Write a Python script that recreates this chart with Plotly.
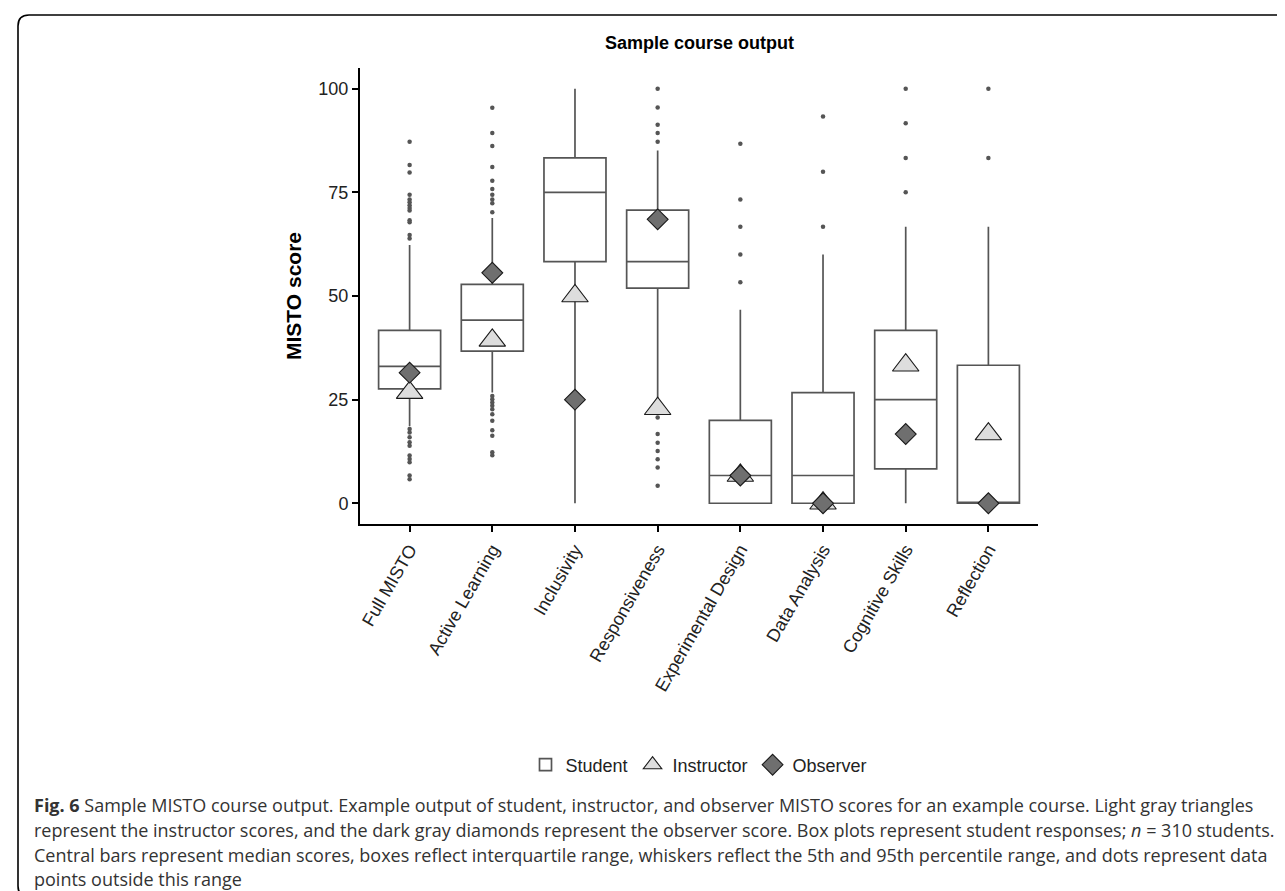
import plotly.graph_objects as go

# ---------------- data ----------------
categories = ["Full MISTO", "Active Learning", "Inclusivity", "Responsiveness",
              "Experimental Design", "Data Analysis", "Cognitive Skills", "Reflection"]

student_q1 = [27.6, 36.7, 58.3, 51.9, 0.0, 0.0, 8.3, 0.0]
student_median = [33.0, 44.2, 75.0, 58.3, 6.7, 6.7, 25.0, 0.0]
student_q3 = [41.7, 52.8, 83.3, 70.7, 20.0, 26.7, 41.7, 33.3]
student_lower = [18.6, 26.7, 0.0, 22.9, 0.0, 0.0, 0.0, 0.0]
student_upper = [62.3, 68.8, 100.0, 85.1, 46.7, 60.0, 66.7, 66.7]

outliers_full_misto = [87.2, 81.6, 79.8, 74.4, 73.3, 72.6, 71.9, 71.2, 70.6, 68.3, 67.8, 64.7, 63.9,
                       17.9, 17.1, 15.9, 14.7, 13.9, 11.5, 10.7, 9.9, 6.7, 5.8]
outliers_active_learning = [95.4, 89.3, 86.2, 81.1, 77.8, 75.8, 74.4, 73.3, 72.4, 70.2,
                            25.9, 25.1, 24.3, 23.5, 22.7, 21.5, 19.9, 17.6, 16.3, 12.3, 11.6]
outliers_inclusivity = []
outliers_responsiveness = [100.0, 95.5, 91.3, 89.3, 87.2, 20.7, 16.7, 14.6, 12.6, 10.6, 8.6, 4.2]
outliers_experimental_design = [86.7, 73.3, 66.7, 60.0, 53.3]
outliers_data_analysis = [93.3, 80.0, 66.7]
outliers_cognitive_skills = [100.0, 91.7, 83.3, 75.0]
outliers_reflection = [100.0, 83.3]

outliers_by_category = [outliers_full_misto, outliers_active_learning, outliers_inclusivity,
                        outliers_responsiveness, outliers_experimental_design,
                        outliers_data_analysis, outliers_cognitive_skills, outliers_reflection]

instructor = [26.7, 39.3, 50.0, 22.8, 6.7, 0.0, 33.3, 16.7]
observer = [31.5, 55.6, 25.0, 68.5, 6.7, 0.0, 16.7, 0.0]

title_text = "Sample course output"
y_title = "MISTO score"
caption_lines = [
    "<b>Fig. 6</b> Sample MISTO course output. Example output of student, instructor, and observer MISTO scores for an example course. Light gray triangles",
    "represent the instructor scores, and the dark gray diamonds represent the observer score. Box plots represent student responses; <i>n</i> = 310 students.",
    "Central bars represent median scores, boxes reflect interquartile range, whiskers reflect the 5th and 95th percentile range, and dots represent data",
    "points outside this range",
]

# ---------------- layout geometry ----------------
W_FIG, H_FIG = 1285, 891
L, R, T, B = 352, 1030, 60, 516
PW, PH = R - L, B - T


def px(x):
    return (x - L) / PW


def py(y):
    return (B - y) / PH


FONT = "Liberation Sans, Arial, sans-serif"
BOX_COLOR = "#555555"

fig = go.Figure()

fig.add_trace(go.Box(
    name="Student",
    x=categories,
    q1=student_q1, median=student_median, q3=student_q3,
    lowerfence=student_lower, upperfence=student_upper,
    boxpoints=False,
    width=0.75,
    whiskerwidth=0,
    fillcolor="white",
    line=dict(color=BOX_COLOR, width=1.7),
    showlegend=True,
))

out_x, out_y = [], []
for cat, vals in zip(categories, outliers_by_category):
    for v in vals:
        out_x.append(cat)
        out_y.append(v)

fig.add_trace(go.Scatter(
    x=out_x, y=out_y, mode="markers",
    marker=dict(color=BOX_COLOR, size=4.5),
    showlegend=False, hoverinfo="y",
))

fig.add_trace(go.Scatter(
    name="Instructor", x=categories, y=instructor, mode="markers",
    marker=dict(symbol="triangle-up", size=23, color="#dddddd",
                line=dict(color="#1a1a1a", width=1.1)),
))

fig.add_trace(go.Scatter(
    name="Observer", x=categories, y=observer, mode="markers",
    marker=dict(symbol="diamond", size=16, color="#6f6f6f",
                line=dict(color="#1a1a1a", width=1.1)),
))

annotations = [
    dict(text="<b>%s</b>" % title_text, x=px(691), y=py(35), xref="paper", yref="paper",
         showarrow=False, xanchor="center", yanchor="middle",
         font=dict(family=FONT, size=18, color="black")),
    dict(text="<b>%s</b>" % y_title, x=px(285), y=py(288), xref="paper", yref="paper",
         showarrow=False, xanchor="center", yanchor="middle", textangle=-90,
         font=dict(family=FONT, size=21, color="black")),
]
caption_y = [797, 822, 847, 871]
for line, yy in zip(caption_lines, caption_y):
    annotations.append(dict(
        text=line, x=px(24), y=py(yy), xref="paper", yref="paper",
        showarrow=False, xanchor="left", yanchor="middle", align="left",
        font=dict(family="Open Sans, sans-serif", size=18, color="#333333"),
    ))

frame_path = (
    f"M {px(1290)},{py(7)} L {px(21)},{py(7)} "
    f"Q {px(10)},{py(7)} {px(10)},{py(18)} "
    f"L {px(10)},{py(878)} Q {px(10)},{py(889)} {px(21)},{py(889)}"
)

fig.update_layout(
    width=W_FIG, height=H_FIG, autosize=False,
    margin=dict(l=L, r=W_FIG - R, t=T, b=H_FIG - B, pad=0),
    paper_bgcolor="white", plot_bgcolor="white",
    font=dict(family=FONT, size=18, color="#222222"),
    showlegend=True,
    legend=dict(orientation="h", x=px(691), y=py(757), xanchor="center", yanchor="middle",
                font=dict(family=FONT, size=18, color="#222222"),
                itemwidth=30, tracegroupgap=0, bgcolor="rgba(0,0,0,0)"),
    annotations=annotations,
    shapes=[dict(type="path", xref="paper", yref="paper", path=frame_path,
                 line=dict(color="black", width=1.6))],
    xaxis=dict(
        type="category", categoryorder="array", categoryarray=categories,
        range=[-0.6, len(categories) - 0.4],
        showline=True, linecolor="black", linewidth=2,
        ticks="outside", ticklen=6, tickwidth=1.5, tickcolor="black",
        tickangle=-60, tickfont=dict(family=FONT, size=18, color="#222222"),
        showgrid=False, zeroline=False,
    ),
    yaxis=dict(
        range=[-5, 105], tickvals=[0, 25, 50, 75, 100],
        showline=True, linecolor="black", linewidth=2,
        ticks="outside", ticklen=6, tickwidth=1.5, tickcolor="black",
        tickfont=dict(family=FONT, size=18, color="#222222"),
        showgrid=False, zeroline=False,
    ),
)

fig.write_html("out.html")
